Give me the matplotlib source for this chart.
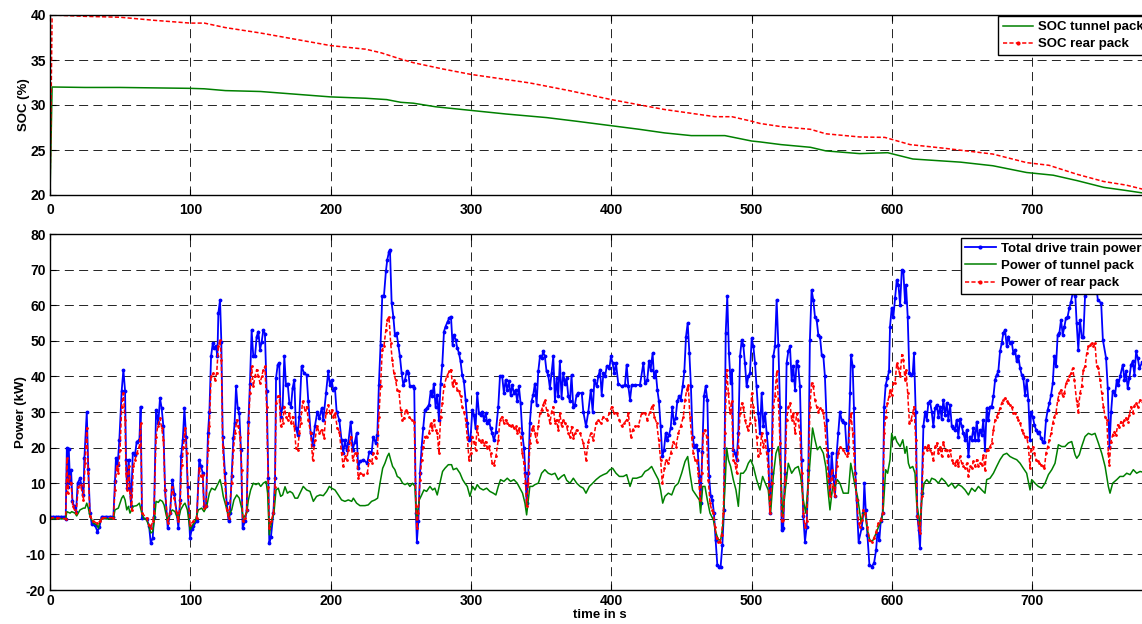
import matplotlib
matplotlib.use("Agg")
import matplotlib.pyplot as plt
import numpy as np
from matplotlib.lines import Line2D

# ---------------- data ----------------
time_ticks = [0, 100, 200, 300, 400, 500, 600, 700]
soc_ticks = [20, 25, 30, 35, 40]
power_ticks = [-20, -10, 0, 10, 20, 30, 40, 50, 60, 70, 80]

soc_tunnel = [(0, 20), (1.5, 32.0), (25, 31.95), (50, 31.95), (75, 31.9), (100, 31.85),
              (110, 31.8), (125, 31.6), (150, 31.5), (175, 31.2), (200, 30.9), (225, 30.75),
              (240, 30.6), (250, 30.3), (259, 30.2), (275, 29.8), (300, 29.4), (325, 29.0),
              (354, 28.6), (375, 28.2), (400, 27.7), (420, 27.3), (438, 26.9), (457, 26.6),
              (481, 26.6), (500, 26.0), (506, 25.9), (521, 25.6), (542, 25.3), (553, 24.9),
              (577, 24.6), (597, 24.7), (615, 24.0), (649, 23.65), (672, 23.25), (696, 22.5),
              (715, 22.2), (732, 21.6), (751, 20.85), (767, 20.5), (780, 20.2)]

soc_rear = [(0, 20), (1.5, 40.0), (25, 39.85), (50, 39.75), (75, 39.4), (100, 39.1),
            (110, 39.1), (125, 38.6), (150, 38.0), (175, 37.3), (200, 36.6), (225, 36.2),
            (236, 35.8), (250, 35.1), (259, 34.7), (280, 34.0), (300, 33.4), (342, 32.45),
            (370, 31.6), (400, 30.6), (438, 29.5), (474, 28.7), (486, 28.7), (500, 28.2),
            (506, 27.95), (521, 27.6), (542, 27.3), (553, 26.8), (577, 26.45), (595, 26.4),
            (604, 26.0), (613, 25.6), (637, 25.2), (672, 24.55), (696, 23.6), (712, 23.3),
            (732, 22.3), (751, 21.5), (767, 21.1), (780, 20.6)]

power_total = [
    (0, 0.6), (2, 0.6), (4, 0.6), (6, 0.6), (8, 0.6), (10, 0.6), (11.2, 0), (12, 19.9),
    (12.7, 9), (13.4, 19.5), (14.3, 10), (15, 13.8), (16, 5), (17.1, 3.5), (18.6, 2),
    (19.7, 10), (21.4, 11.4), (22.6, 9), (23.8, 6.7), (24.5, 17), (26.2, 30), (27.3, 14),
    (28.5, 1.6), (29.7, -1.4), (32, -1.7), (33.8, -3.6), (35.2, -2.3), (36.8, 0.6),
    (40, 0.6), (43, 0.6), (45.2, 0.6), (46.3, 10.5), (47, 17), (48.2, 15), (49.4, 22),
    (51.1, 36), (52.3, 41.8), (53.5, 36), (54.2, 16.6), (54.9, 8.6), (56.1, 16.6),
    (57, 8.6), (57.8, 3.5), (59, 18.4), (60.6, 18), (61.8, 21.7), (63.7, 22), (64.6, 31.5),
    (65.6, 0.2), (68.9, 0), (70.6, -2), (71.8, -6.8), (73.2, -5.4), (74.1, 0.6),
    (75.6, 30.6), (76.5, 28.7), (77.2, 27), (78.4, 33.9), (79.6, 31), (80.8, 26), (82, 8),
    (83.9, -2.6), (85.5, 1.6), (87.2, 11), (88.6, 7), (90.3, 1.6), (91.5, -2.6),
    (92.7, 5.3), (93.4, 17.5), (94.6, 22), (95.8, 31), (97, 23), (98.1, 9), (99.8, -5.4),
    (101, -3), (102.2, -2), (104.5, -0.7), (106.4, 16.6), (107.6, 14.7), (108.8, 13),
    (109.8, 3.5), (111.2, 3.5), (112.6, 24), (113.6, 30), (114.8, 45.6), (116, 49.3),
    (117.1, 48), (118.3, 48.4), (119.3, 45.6), (120, 57.8), (121.2, 61.5), (122.1, 49.8),
    (123.1, 23), (124.7, 12.8), (125.9, 4.4), (127.3, -0.7), (128.3, 1.6), (129.5, 11.9),
    (130.7, 22.7), (131.6, 27), (132.6, 37.2), (133.8, 31), (134.9, 29.7), (136.1, 19.4),
    (137.3, -2.6), (139, -0.7), (140.2, 2.5), (141.4, 27.3), (142.5, 38), (143.7, 53),
    (144.9, 45.6), (146.1, 45.6), (147.3, 51.2), (148.5, 52.6), (149.7, 47.5),
    (150.9, 49.8), (152, 53), (153.2, 52), (154.4, 35.8), (155.6, 11.4), (156.3, -6.8),
    (157.5, -5), (159.2, 1.6), (160.4, 11.4), (161.1, 39.5), (162.3, 43.3), (163.4, 43.7),
    (164.4, 28.7), (165.8, 31.5), (167, 45.6), (168.2, 37.6), (169.4, 38), (170.6, 32.5),
    (171.8, 31.5), (172.9, 36.7), (174.1, 39), (175.3, 25.5), (176.5, 23.6),
    (177.7, 28.7), (179.3, 42.8), (181, 41), (182.9, 40.4), (184.1, 33), (185.8, 24),
    (187.2, 20.8), (188.8, 26), (190.5, 30), (191.9, 28.3), (193.6, 31), (194.8, 27.8),
    (196.7, 35.3), (198.3, 41.4), (199.5, 37.6), (200.7, 39), (201.9, 36.2),
    (203.1, 36.7), (204.3, 30), (206.2, 27.8), (207.8, 22), (209, 18.4), (210.2, 22),
    (211.4, 19.4), (212.6, 21.3), (214.3, 27.3), (215.7, 19.4), (217.3, 21.7),
    (218.5, 24), (219.7, 14.2), (220.9, 16.1), (223.3, 16.6), (226.1, 15.6),
    (227.6, 18.9), (229.2, 18.4), (230.4, 23), (232.1, 21.3), (233.3, 23.6),
    (234.4, 37.6), (235.6, 48.9), (236.8, 62.5), (238, 62.5), (239.4, 69.5),
    (240.4, 72.8), (241.6, 75), (242.3, 75.6), (243.5, 60.6), (244.7, 56.8),
    (245.8, 51.7), (247, 52.2), (248.2, 48.9), (249.4, 45.6), (250.6, 41), (251.8, 37.6),
    (253, 39), (254.2, 41.4), (255.4, 41), (256.5, 37.2), (258.4, 37.2), (259.6, 36.7),
    (260.8, 1.6), (261.5, -6.4), (262.5, -0.7), (263.7, 12.8), (264.9, 20.3),
    (266, 25.5), (267.2, 30.6), (268.4, 31), (270.1, 32), (271.3, 35.8), (272.5, 34.4),
    (273.6, 38), (274.8, 31.5), (276, 34.8), (277.2, 27.8), (278.4, 38), (279.6, 43.3),
    (280.8, 52.6), (281.9, 54), (283.4, 55.4), (284.6, 56.4), (285.8, 56.8),
    (286.9, 48.9), (287.9, 51.7), (289.1, 50.3), (290.3, 48), (291.5, 46.5),
    (292.6, 44.2), (293.8, 40.4), (295, 38.6), (296.2, 33.4), (297.4, 27), (298.6, 22.2),
    (299.8, 23), (301, 30.6), (302.1, 29.2), (303.3, 25.5), (304.5, 35.3), (305.7, 29.7),
    (306.9, 29.2), (308.1, 30.1), (309.3, 27.8), (310.5, 29.7), (311.6, 27),
    (312.8, 27.8), (314, 25.5), (315.2, 24), (316.4, 22), (317.8, 24.5), (319.5, 31.5),
    (320.7, 40), (322.3, 40), (323.5, 35.3), (324.7, 39), (325.9, 36.2), (327.1, 38.6),
    (328.3, 34.8), (329.5, 37.6), (330.6, 35.3), (331.8, 36.2), (333, 33), (334.2, 37.2),
    (335.4, 32.5), (336.6, 24), (337.8, 19.9), (338.9, 12.8), (339.7, 4.4),
    (340.9, 12.8), (342, 27), (343.2, 33), (344.4, 34.8), (345.6, 38), (346.8, 32),
    (348, 41.4), (349.2, 45.6), (350.4, 45.1), (351.5, 47), (352.7, 45.6), (353.9, 41.4),
    (355.1, 40.4), (356.3, 36.7), (357.5, 41), (358.7, 45.6), (359.9, 33), (361.1, 39.5),
    (362.2, 34.4), (363.4, 44.2), (364.6, 33.9), (365.8, 41), (367, 38), (368.2, 39.5),
    (369.4, 34.4), (370.6, 33), (371.7, 40.4), (372.9, 31.5), (374.1, 32), (375.3, 34.8),
    (376.5, 35.3), (379, 35.3), (380.1, 30.1), (382, 26), (383.7, 30.1), (385.4, 36.2),
    (386.8, 30.1), (388, 39), (389.6, 37.2), (390.8, 40), (392, 41.9), (393.2, 34.8),
    (394.4, 40.9), (395.6, 40), (396.8, 42.8), (398.7, 42.3), (399.8, 45.6), (401, 43.7),
    (402.2, 40.9), (403.4, 43.7), (405, 38), (407.4, 37.2), (409.8, 37.6), (411, 43.3),
    (412.2, 37.2), (413.4, 33.4), (414.6, 37.6), (417, 37.6), (420.5, 37.6),
    (422.9, 43.7), (424.1, 38.1), (425.7, 39), (426.9, 44.2), (428.1, 41.9),
    (429.5, 46.5), (430.5, 39.9), (431.7, 41.4), (432.9, 36.2), (434, 33), (435.2, 26),
    (436.4, 17.5), (437.6, 19.4), (438.8, 24), (440, 22.2), (441.2, 23.6), (442.4, 25.5),
    (443.5, 31.5), (444.7, 26.9), (445.9, 28.3), (447.1, 33), (448.3, 34.4),
    (449.5, 33.4), (450.9, 37.2), (452.1, 41.4), (453.3, 51.2), (454.5, 55),
    (455.7, 46.5), (456.8, 37.2), (458, 23.1), (459.2, 20.3), (460.4, 20.8),
    (461.6, 19.4), (462.8, 11.9), (463.7, 4.4), (464.9, 18.9), (466.1, 34.4),
    (467.3, 37.2), (468.5, 33.4), (469.7, 11.9), (470.9, 6.3), (472.1, 5.3), (473.2, 1.6),
    (474.4, -5.9), (475.6, -12.9), (476.8, -13.4), (478, -13.4), (479.2, -7.3),
    (480.4, 2.5), (481.6, 52.2), (482.7, 62.5), (483.9, 46.5), (485.1, 38.1),
    (486.1, 41.9), (487, 19.4), (488.2, 18.4), (489.4, 16.6), (490.6, 24), (491.8, 45.6),
    (493, 50.3), (494.1, 48.9), (495.3, 43.7), (496.5, 37.2), (497.7, 40), (498.9, 40.9),
    (500.1, 50.7), (501.3, 48.4), (502.5, 43.7), (503.6, 37.2), (504.8, 29.7), (506, 24),
    (507.2, 35.3), (508.4, 26), (509.6, 29.7), (510.8, 24), (511.9, 19.4), (513.1, 1.6),
    (514.3, 12.8), (515.5, 45.6), (516.7, 48.4), (517.9, 61.5), (519.1, 48.9),
    (520.3, 31.5), (521.5, -3.1), (522.6, -2.6), (523.8, 12.8), (525, 43.7), (526.2, 47),
    (527.4, 48.4), (528.6, 39), (529.8, 42.8), (531, 36.2), (532.1, 44.2), (533.3, 42.8),
    (534.5, 37.2), (535.7, 16.6), (536.9, 0.7), (538.1, -6.4), (539.3, -2.2),
    (540.5, 13.8), (541.6, 50.3), (542.8, 64.3), (544, 61.5), (545.2, 56.8),
    (546.4, 55.9), (547.6, 51.7), (548.8, 51.2), (550, 46.1), (551.2, 45.6), (552.3, 40),
    (553.5, 27.8), (554.7, 17.5), (555.9, 7.2), (557.1, 18.4), (558.3, 11.9),
    (559.5, 6.3), (560.7, 18.4), (561.8, 24), (563, 30.1), (564.2, 27.8), (565.4, 27.3),
    (566.6, 26.9), (567.8, 19.4), (569, 20.3), (570.2, 35.3), (570.9, 46.1),
    (572.1, 42.8), (573, 31), (574, 12.8), (574.9, 5.3), (576.3, -6.4), (578.5, -2.6),
    (579.7, 1.6), (580.4, 10), (581.4, 2.5), (582.6, -4.5), (584, -12.9), (585.7, -13.4),
    (587.3, -12.5), (588.8, -8.7), (589.7, -4), (591.1, -5.9), (592.1, -0.7),
    (593.5, 1.6), (594.5, 31.5), (595.6, 37.6), (596.8, 39.5), (598, 41.4), (598.7, 54),
    (599.9, 59.2), (601.1, 56.8), (602.3, 62), (603.5, 67.1), (604.7, 65.7),
    (605.9, 60.1), (607.1, 69.9), (608.2, 69.5), (609.4, 61), (610.1, 65.7),
    (611.3, 56.8), (612.5, 40.9), (613.7, 40.4), (614.9, 40.9), (615.8, 46.5),
    (617, 30.1), (618.2, 0.7), (619.2, -3.1), (620.1, -8.2), (621.3, 7.2), (622.5, 26),
    (623.7, 30.1), (624.9, 27.8), (626, 32.5), (627.2, 33), (628.4, 30.1), (629.6, 26),
    (630.8, 31), (632, 32), (633.2, 28.7), (634.4, 31.5), (635.5, 28.1), (636.7, 33.4),
    (637.9, 29.2), (639.1, 32.5), (640.3, 27.8), (641.5, 32), (642.7, 26), (643.9, 25.5),
    (645, 25), (646.2, 27.8), (647.4, 23.1), (648.6, 28.1), (649.8, 26), (651, 24),
    (652.2, 22.2), (653.4, 25), (654.6, 17.5), (655.7, 23.1), (656.9, 22.2),
    (658.1, 25.5), (659.3, 22.2), (660.5, 27.3), (661.7, 22.2), (662.9, 25),
    (664.1, 23.6), (665.2, 27.8), (666.4, 19.4), (667.6, 31), (668.8, 27.8), (670, 31.5),
    (671.2, 31.5), (672.4, 34.4), (673.6, 39), (674.7, 40.4), (675.9, 41.4), (677.1, 47),
    (678.3, 49.3), (679.5, 52.2), (680.7, 53.1), (681.9, 48.4), (683.1, 51.2),
    (684.2, 49.3), (685.4, 49.8), (686.6, 46.5), (687.8, 47.5), (689, 44.2),
    (690.2, 45.6), (691.4, 42.3), (692.6, 40.4), (693.7, 39.5), (694.9, 34.8), (696.1, 39),
    (697.3, 33.4), (698.5, 22.2), (699.2, 30.1), (700.4, 28.7), (701.6, 26.4),
    (702.8, 25), (704, 24), (705.1, 24.5), (706.3, 22.6), (707.5, 21.7), (708.7, 21.7),
    (709.9, 27.8), (711.1, 30.6), (712.3, 32.5), (713.5, 34.8), (714.7, 38.1),
    (715.8, 45.6), (717, 42.8), (718.2, 51.7), (719.4, 52.2), (720.6, 55.9),
    (721.8, 51.7), (723, 54), (724.1, 56.4), (725.3, 56.8), (726.5, 59.2), (727.7, 61),
    (728.9, 63.4), (730.1, 65), (730.8, 62.5), (731.7, 55), (732.9, 47.5), (734.1, 55.9),
    (735.3, 51.2), (736.5, 51.2), (737.7, 62.5), (738.9, 66), (740.9, 68), (743, 67),
    (745.6, 66), (746.8, 61.5), (749.2, 60.6), (750.4, 50.3), (752.7, 45.1),
    (753.9, 36.7), (755.1, 20.3), (756.3, 30.1), (757.4, 35.8), (759.1, 34.8),
    (760.3, 39), (761.5, 37.6), (762.7, 40), (764.6, 43.3), (765.8, 39), (766.9, 41.4),
    (768.1, 36.7), (769.3, 39.5), (770.5, 43.3), (771.7, 44.2), (772.9, 40.4),
    (774.1, 47), (775.3, 45.1), (776.5, 42.3), (778.4, 44), (780, 42)]

power_tunnel = [
    (0, 0), (11.2, 0), (12, 2), (14.3, 1.6), (15.5, 2), (17.8, 1.6), (19, 0.8),
    (21.4, 2.5), (23.8, 3), (25, 3), (26.2, 4.4), (27.3, 3), (28.5, 0.7), (30.9, -1.2),
    (33.3, -1.7), (34.5, -2.6), (35.7, -0.7), (36.8, 0), (45.2, 0), (46.3, 2.5),
    (48.7, 3), (49.9, 4.4), (51.1, 5.8), (52.3, 6.5), (53.5, 5.3), (54.7, 2.5),
    (55.9, 3.5), (57, 1.6), (58.2, 2.5), (59.4, 3.5), (61.8, 3.7), (63.7, 4.4),
    (65.4, 1.6), (67, 0), (68.9, -0.3), (70.6, -2.2), (71.8, -4), (73.2, -3.6),
    (74.4, -0.3), (75.6, 4.9), (77.2, 4.6), (78.4, 5.3), (80.1, 4.9), (81.3, 3.9),
    (82.5, 1.6), (83.9, -0.7), (85.5, 1.6), (87.2, 2.5), (89.1, 2), (90.3, 0.7),
    (91.5, -0.3), (93.1, 2.5), (95.1, 3.9), (96.2, 4.4), (97.9, 2.5), (99.8, -3.1),
    (101.7, -1.7), (103.4, -0.7), (105.7, 2.5), (108.1, 3), (109.8, 2), (111.7, 3.5),
    (113.6, 7.2), (115.2, 8.6), (117.6, 8.1), (120, 10), (121.2, 11), (122.4, 9),
    (123.5, 6.3), (125.4, 3.5), (127.3, 0.8), (129.5, 2.5), (131.1, 5.3), (133.1, 6.7),
    (134.9, 5.8), (136.6, 3), (137.8, 0.2), (140.2, 1.6), (141.4, 5.3), (143, 8.1),
    (144.9, 10), (146.8, 9.6), (148.5, 10), (150.2, 9.1), (152, 10), (154, 10.5),
    (155.1, 7.2), (156.3, -4.5), (158, -0.7), (159.6, 1.6), (161.1, 8.1), (162.7, 8.6),
    (164.4, 6.3), (165.8, 6.7), (167.5, 9), (169.2, 7.2), (171, 7.7), (172.9, 7.2),
    (174.6, 5.8), (176.5, 5.8), (178.2, 7.2), (180.5, 9.1), (182.9, 8.1), (185.3, 7.7),
    (187.7, 4.9), (190, 6.3), (192.4, 6.7), (194.8, 6.5), (197.2, 7.7), (199.1, 9.1),
    (200.7, 8.6), (203.1, 8.1), (205.5, 6.7), (207.8, 5.3), (210.2, 4.9), (212.6, 5.3),
    (215, 4.9), (216.2, 5.8), (218.5, 4.4), (220.9, 3.7), (224.5, 3.7), (226.8, 3.9),
    (229.2, 4.9), (231.6, 5.3), (233.5, 5.8), (235.2, 10), (237.1, 14.2), (238.7, 15.6),
    (240.4, 17.5), (241.6, 18.4), (242.8, 16.6), (244.2, 14.7), (245.8, 13.8),
    (247.5, 11.9), (249.4, 11.4), (251.3, 10), (253, 9.6), (254.9, 10), (256.5, 9.1),
    (258.4, 10), (260.1, 9.1), (261.3, -0.3), (262, 2), (263.2, 5.3), (264.9, 6.7),
    (266.5, 8.1), (268.4, 7.7), (270.8, 9.1), (272.7, 8.1), (274.3, 8.6), (276, 6.7),
    (277.9, 10), (279.8, 13.3), (281.5, 14.2), (283.9, 15.2), (286.2, 15.2),
    (287.4, 13.8), (289.8, 14.2), (292.2, 12.8), (294.1, 11), (295.7, 10), (297.4, 9.1),
    (299.3, 6.3), (301.2, 9.1), (302.9, 8.1), (304.5, 9.6), (306.4, 8.6), (308.8, 8.1),
    (311.2, 8.6), (313.5, 7.7), (315.9, 7.2), (317.8, 6.7), (319.5, 9.1), (321.1, 11),
    (323.5, 10.5), (325.9, 11.4), (328.3, 10.5), (330.6, 11), (333, 10), (334.9, 8.6),
    (336.8, 7.2), (338.5, 4.4), (339.7, 1.1), (340.9, 5.3), (342, 9.1), (343.9, 9.1),
    (345.6, 9.6), (348, 10), (350.4, 12.8), (352.7, 13.8), (355.1, 12.8), (357.5, 12.4),
    (359.9, 12.8), (362.2, 11), (364.6, 11.9), (366.5, 12.4), (368.3, 10.8), (370.6, 10),
    (373, 11.4), (375.4, 10), (377.8, 9.1), (380.1, 8.6), (382, 7.2), (384.4, 9.1),
    (386.8, 10), (389.2, 11), (392, 11.9), (394.4, 12.4), (396.8, 12.8), (399.1, 13.8),
    (401, 14.2), (403.4, 12.8), (405.8, 11.9), (408.6, 11.9), (411, 12.4), (413.4, 9.1),
    (415.3, 11.4), (418.1, 11.4), (421.7, 11.9), (424.1, 13.3), (426.4, 13.8),
    (428.8, 14.7), (431.2, 12.8), (433.6, 11), (435.2, 8.1), (436.7, 4.4), (438.3, 6.3),
    (440.7, 7.2), (443.1, 6.7), (445.4, 9.1), (447.8, 10), (450.2, 12.8), (452.6, 16.1),
    (454.5, 17.5), (456.1, 12.8), (458, 8.1), (460.4, 6.7), (462.8, 5.3), (463.7, 1.6),
    (465.2, 9.1), (466.8, 9.1), (468.5, 5.3), (470.4, 1.6), (472.8, -0.3), (474.4, -3.6),
    (476.3, -5.9), (478, -5.9), (479.4, -2.6), (481.1, 9.1), (482.3, 19.9),
    (483.5, 16.6), (485.1, 14.7), (487, 11), (488.9, 8.1), (490.6, 3.5), (492.2, 12.8),
    (494.1, 12.8), (496, 13.8), (497.7, 15.6), (499.4, 16.6), (501.3, 14.7),
    (503.6, 11), (506, 8.1), (507.9, 11.9), (509.8, 10), (511.9, 8.1), (513.6, 1.6),
    (515.5, 11.9), (517.4, 18.4), (519.1, 20.3), (520.7, 14.7), (522.2, 0.7),
    (523.8, 7.2), (526.2, 15.6), (528.6, 12.8), (531, 14.2), (533.3, 14.7), (535, 11.9),
    (536.9, 5.3), (538.6, 1.6), (540.5, 10), (542.1, 18.4), (543.5, 25.5), (545.2, 22.2),
    (546.9, 19.4), (548.8, 20.3), (551.2, 18.4), (553, 14.5), (554.7, 7.2), (555.9, 2.5),
    (557.8, 9.1), (559.5, 9.1), (561.1, 11), (563, 10), (565.4, 7.2), (567.8, 7.2),
    (569, 7.2), (570.7, 15.6), (572.1, 12.8), (573.8, 9.1), (575.5, 6.3), (576.9, 2.5),
    (578.1, -1.2), (579.7, 1.6), (580.9, 1.6), (582.6, -3.1), (584.5, -6.4),
    (586.9, -5.9), (588.8, -4), (591.1, -1.7), (592.8, -0.3), (594, 3.5), (595.6, 13.8),
    (597, 12.8), (598.7, 16.6), (599.9, 24), (601.1, 22.2), (602.3, 23.1), (603.5, 21.7),
    (605.9, 20.3), (607.8, 22.2), (609.4, 18.4), (610.6, 20.3), (611.8, 15.6),
    (613, 14.2), (614.9, 14.7), (616.5, 12.8), (617.7, 4.4), (619.2, 0.7), (620.1, -2.2),
    (621.3, 5.3), (623, 10), (624.9, 11), (626.8, 10), (628.4, 11.4), (630.8, 11),
    (633.2, 10), (635.5, 11.4), (637.9, 10.5), (640.3, 9.1), (642.7, 10), (645, 8.6),
    (647.4, 9.6), (649.8, 9.1), (652.2, 8.1), (654.6, 6.7), (656.9, 8.6), (659.3, 7.7),
    (661.7, 9.1), (664.1, 8.1), (666.4, 7.2), (667.6, 11), (670, 11.4), (672.4, 12.8),
    (674.7, 14.7), (677.1, 16.6), (679.5, 18), (681.9, 18.4), (684.2, 17.5), (686.6, 17),
    (689, 16.6), (691.4, 15.6), (693.7, 14.2), (696.1, 12.8), (698.5, 8.1), (699.7, 11),
    (702, 10), (704.4, 9.1), (706.8, 8.6), (709.2, 10), (711.6, 12.4), (714, 13.8),
    (716.3, 15.6), (718.7, 20.8), (721.1, 20.3), (723.4, 20.3), (725.8, 21.3),
    (728.2, 21.7), (730.6, 18), (731.8, 17), (733.6, 18), (735.3, 20.3), (737.7, 23.1),
    (740.1, 24), (742.5, 23.6), (744.8, 24), (747.2, 21.3), (749.6, 18.4), (752, 14.7),
    (754.3, 9.1), (755.5, 7.2), (757.4, 10), (760.3, 11), (762.6, 11.9), (765, 11.9),
    (767.4, 12.8), (769.8, 12.4), (772.1, 13.8), (774.5, 12.8), (776.9, 13.3), (780, 13)]

power_rear = [
    (0, 0.3), (5, 0.3), (11.2, 0), (12, 17), (12.6, 7.2), (13.8, 12), (15, 10),
    (16.2, 3.5), (18.6, 1.6), (20.2, 9), (21.9, 9.5), (23.8, 5.3), (25, 15.6),
    (26.2, 25.5), (27.3, 12.8), (28.5, 0.7), (30.9, -0.7), (33.3, -1.2), (35.7, -0.7),
    (36.8, 0.3), (45.2, 0.3), (46.3, 8), (47.5, 14.7), (48.7, 12.8), (49.9, 19.4),
    (51.1, 31.5), (52.3, 35.3), (53.5, 27.8), (54.2, 12.8), (55.1, 8), (56.1, 14.7),
    (57, 7.2), (58.2, 2.5), (59.4, 14.7), (60.6, 16.6), (61.8, 18.4), (63.7, 20.3),
    (64.6, 26.9), (65.6, 1.6), (68.9, 0.2), (70.6, -1.7), (71.8, -2.6), (73.2, -0.7),
    (74.1, 1.6), (75.6, 23.1), (76.8, 26), (78.4, 28.3), (79.6, 25.5), (80.8, 22.2),
    (82, 8), (83.9, -1.2), (85.5, 1.6), (87.2, 9), (88.6, 5.8), (90.3, 1.6),
    (91.5, -0.7), (92.7, 4.4), (93.9, 15.2), (95.1, 20.3), (96.2, 25.5), (97.4, 18.4),
    (98.6, 6.3), (99.8, -1.7), (102.2, -0.7), (104.5, 0.2), (106.4, 14.2), (107.6, 11.9),
    (108.8, 12.4), (109.8, 3), (111.2, 3.5), (112.6, 19.4), (113.6, 26), (114.8, 40),
    (116.4, 40.9), (117.6, 39), (118.8, 40.9), (120, 48.4), (121.2, 50.3),
    (122.1, 44.7), (123.1, 20.3), (124.7, 10), (125.9, 2.5), (127.3, 0.2), (129.5, 10),
    (130.7, 19.4), (131.9, 24), (133.1, 27.8), (134.2, 26), (135.4, 23.1),
    (136.6, 13.8), (137.3, -0.7), (139, 0.2), (140.2, 2.5), (141.4, 24), (142.5, 35.3),
    (143.7, 42.8), (144.9, 37.2), (146.1, 40), (147.3, 41.9), (148.5, 40),
    (149.7, 38.1), (150.9, 40), (152, 41.9), (153.2, 42.8), (154.4, 31.5), (155.6, 9),
    (156.3, -2.6), (157.5, -0.7), (159.2, 1.6), (160.4, 9), (161.1, 32.5),
    (162.3, 34.4), (163.4, 34.4), (164.4, 26), (165.8, 26.9), (167, 31.5),
    (168.2, 28.7), (169.4, 27.8), (170.6, 29.7), (171.8, 26.9), (172.9, 28.7),
    (174.1, 26), (175.3, 19.9), (176.5, 19.4), (177.7, 24), (178.6, 26.9), (180, 33),
    (181.7, 30.6), (182.9, 31.5), (184.1, 27.8), (185.8, 24), (187.2, 16.6),
    (188.8, 22.2), (190.5, 26), (191.9, 24), (193.6, 25), (195.3, 22.7), (196.7, 29.7),
    (198.3, 32), (199.5, 29.7), (200.7, 30.6), (201.9, 28.7), (203.1, 29.7),
    (204.8, 25.5), (206.2, 24.5), (207.8, 18.4), (209, 14.7), (210.2, 17.5),
    (211.4, 16.6), (212.6, 19.4), (214.3, 23.1), (215.7, 16.6), (217.3, 18.4),
    (218.5, 18.4), (219.7, 11.4), (220.9, 12.8), (223.3, 12.4), (226.1, 12.8),
    (227.6, 16.6), (229.2, 15.6), (230.4, 18.4), (232.1, 17), (233.3, 18.4),
    (234.4, 28.7), (235.6, 37.2), (236.8, 47.5), (238, 48.4), (239.4, 53.1),
    (240.4, 55.9), (241.6, 56.8), (242.8, 49.3), (243.9, 44.7), (245.1, 40.9),
    (246.3, 39), (247.5, 36.2), (248.7, 35.8), (249.9, 30.6), (251.1, 27.8),
    (252.3, 28.3), (253.4, 30.6), (254.6, 30.1), (255.8, 28.7), (257.7, 27.8),
    (259.6, 27.3), (260.8, 3.5), (261.5, -2.6), (262.5, 1.6), (263.7, 11), (264.9, 16.6),
    (266, 20.3), (267.2, 23.1), (268.4, 23.1), (270.1, 24), (271.3, 26.9), (272.5, 25),
    (273.6, 27.8), (274.8, 25), (276, 24), (277.2, 18.4), (278.4, 28.7), (279.6, 32.5),
    (280.8, 37.2), (282.7, 40), (284.6, 41.4), (285.8, 41.9), (286.9, 37.2),
    (287.9, 39), (289.1, 38.1), (290.3, 36.2), (291.5, 35.8), (292.6, 34.4),
    (293.8, 31.5), (295, 30.1), (296.2, 27.8), (297.4, 23.1), (298.6, 16.6),
    (299.8, 18.4), (301, 23.1), (302.1, 21.7), (303.3, 19.4), (304.5, 26), (305.7, 22.2),
    (306.9, 21.7), (308.1, 22.2), (309.3, 20.8), (310.5, 21.7), (311.6, 19.9),
    (312.8, 20.4), (314, 18.4), (315.2, 15.6), (316.4, 15.2), (317.8, 17.5),
    (319.5, 22.2), (320.7, 27.8), (322.3, 28.7), (323.5, 26.9), (324.7, 27.8),
    (325.9, 26.9), (327.1, 26.4), (328.3, 26), (329.5, 26.4), (330.6, 25.5), (331.8, 26),
    (333, 24), (334.2, 25.5), (335.4, 23.1), (336.6, 18.4), (337.8, 15.6), (338.9, 10),
    (339.7, 3.5), (340.9, 10), (342, 21.3), (343.2, 25), (344.4, 26), (345.6, 24),
    (346.8, 21.7), (348, 26), (349.2, 29.7), (350.4, 30.6), (351.5, 32), (352.7, 33.4),
    (353.9, 30.6), (355.1, 29.2), (356.3, 26.9), (357.5, 30.1), (358.7, 31.5),
    (359.9, 26.9), (361.1, 27.8), (362.2, 25), (363.4, 29.7), (364.6, 26), (365.8, 27.8),
    (367, 26.9), (368.2, 26), (369.4, 24), (370.6, 23.1), (371.7, 25.9), (372.9, 22.7),
    (374.1, 24), (375.4, 25), (377.8, 24), (380.1, 21.3), (382, 16.6), (383.7, 21.7),
    (385.4, 24), (387.3, 22.2), (389.2, 26.9), (390.8, 27.8), (392.5, 26.9),
    (394.4, 28.7), (396.8, 27.8), (398.7, 29.7), (400.3, 31.5), (402, 29.7),
    (403.9, 29.7), (405.8, 27.8), (407.4, 26), (409.3, 26.9), (411, 27.8), (412.2, 29.7),
    (413.9, 23.1), (415.3, 25), (417, 26), (419.3, 26), (421.7, 29.7), (424.1, 29.7),
    (425.7, 27.8), (427.6, 30.1), (429.5, 32), (430.7, 28.7), (432.4, 26.9),
    (433.8, 22.2), (435.2, 16.6), (436.4, 10), (437.9, 14.2), (439, 16.6), (440.7, 15.6),
    (442.4, 18.4), (444.3, 21.7), (446.2, 20.3), (447.8, 24), (449.5, 26), (451.4, 28.7),
    (452.6, 33.4), (453.8, 36.2), (454.9, 37.6), (456.1, 28.7), (457.3, 23.1),
    (458.5, 18.4), (459.7, 16.6), (460.9, 16.6), (462.1, 12.8), (463.3, 5.3),
    (464.5, 12.8), (465.6, 24), (466.8, 25), (468, 23.1), (469.2, 11), (470.4, 4.4),
    (471.6, 2.5), (472.8, 1.6), (473.9, -2.2), (475.1, -5.4), (476.3, -6.4),
    (477.5, -6.4), (478.7, -4.5), (479.9, 1.6), (481.1, 24), (482.3, 41.9),
    (483.5, 35.3), (484.6, 29.7), (485.8, 33), (487, 16.6), (488.2, 15.6),
    (489.4, 12.8), (490.6, 20.3), (491.8, 29.7), (493, 32.5), (494.1, 31.5),
    (495.3, 27.8), (496.5, 26), (497.7, 25), (498.9, 26.9), (500.1, 35.3),
    (501.3, 31.5), (502.5, 27.8), (503.6, 23.1), (504.8, 17.5), (506, 18.4),
    (507.2, 24), (508.4, 20.3), (509.6, 22.2), (510.8, 18.4), (511.9, 14.7),
    (513.1, 1.6), (514.3, 10), (515.5, 31.5), (516.7, 34.4), (517.9, 41.4),
    (519.1, 33.4), (520.3, 21.3), (521.5, -0.7), (522.6, -0.3), (523.8, 11),
    (525, 27.8), (526.2, 31.5), (527.4, 32.5), (528.6, 27.8), (529.8, 29.7), (531, 24),
    (532.1, 29.7), (533.3, 27.8), (534.5, 24), (535.7, 12.8), (536.9, 1.6),
    (538.1, -2.2), (539.3, -0.7), (540.5, 11), (541.6, 31.5), (542.8, 38.1),
    (544, 37.2), (545.2, 33.4), (546.4, 31.5), (547.6, 30.1), (548.8, 31), (550, 30.6),
    (551.2, 29.7), (552.3, 26), (553.5, 19.4), (554.7, 11.9), (555.9, 6.3),
    (557.1, 13.8), (558.3, 9), (559.5, 6.3), (560.7, 14.7), (561.8, 18.4), (563, 20.3),
    (565.4, 19.4), (567.8, 17.5), (569, 18.4), (570.2, 27.8), (570.9, 29.7),
    (572.1, 24), (573, 18.4), (574, 11), (574.9, 5.3), (576.3, -1.2), (577.4, -2.2),
    (578.5, -0.3), (579.7, 2.5), (580.9, 1.6), (582.6, -2.2), (584, -5.9),
    (585.7, -6.4), (587.3, -5.4), (588.8, -3.6), (590.4, -1.2), (592.1, -0.3),
    (593.5, 1.6), (594.5, 24), (595.6, 28.7), (596.8, 32.5), (598, 34.4), (598.7, 36.2),
    (599.9, 34.8), (601.1, 38.1), (602.3, 38.1), (603.5, 43.7), (604.7, 42.3),
    (605.9, 40), (607.1, 46.1), (608.2, 44.7), (609.4, 39), (610.1, 41.9),
    (611.3, 35.3), (612.5, 26.9), (613.7, 27.8), (614.9, 29.7), (615.8, 31.5),
    (617, 22.2), (618.2, 0.7), (619.2, -2.2), (620.1, -4), (621.3, 6.3), (622.5, 18.4),
    (623.7, 20.3), (624.9, 19.4), (626, 20.8), (627.2, 19.4), (628.4, 18.4),
    (629.6, 16.6), (630.8, 20.3), (632, 21.3), (633.2, 18.4), (634.4, 20.3),
    (635.5, 17.5), (636.7, 21.7), (637.9, 19.4), (639.1, 19.4), (640.3, 17.5),
    (641.5, 19.4), (642.7, 16.6), (643.9, 15.6), (645, 15.2), (646.2, 16.6),
    (647.4, 14.7), (648.6, 17.5), (649.8, 15.6), (651, 14.7), (652.2, 14.2),
    (653.4, 15.6), (654.6, 11.9), (655.7, 14.7), (656.9, 14.2), (658.1, 16.1),
    (659.3, 14.7), (660.5, 16.6), (661.7, 14.7), (662.9, 15.6), (664.1, 15.2),
    (665.2, 18), (666.4, 13.8), (667.6, 19.4), (668.8, 19.4), (670, 20.3),
    (671.2, 21.3), (672.4, 25), (673.6, 27.8), (674.7, 28.7), (675.9, 29.7), (677.1, 31),
    (678.3, 32.5), (679.5, 33.4), (680.7, 33.9), (681.9, 33), (683.1, 32.5), (684.2, 32),
    (685.4, 31.5), (686.6, 29.7), (687.8, 29.7), (689, 28.7), (690.2, 27.8),
    (691.4, 26.9), (692.6, 25), (693.7, 24), (694.9, 23.1), (696.1, 23.1),
    (697.3, 20.3), (698.5, 14.2), (699.2, 19.4), (700.4, 20.3), (701.6, 18.4),
    (702.8, 16.6), (704, 16.1), (705.1, 15.6), (706.3, 15.2), (707.5, 14.7),
    (708.7, 14.2), (709.9, 18.4), (711.1, 20.3), (712.3, 22.2), (713.5, 24),
    (714.7, 26.9), (715.8, 28.7), (717, 29.7), (718.2, 33.4), (719.4, 35.3),
    (720.6, 36.2), (721.8, 34.4), (723, 35.3), (724.1, 38.1), (725.3, 39), (726.5, 40),
    (727.7, 40.9), (728.9, 42.3), (730.1, 39), (731.7, 33), (732.9, 30.1),
    (734.1, 35.3), (735.3, 37.2), (736.5, 41.9), (737.7, 42.8), (738.9, 46.5),
    (740.1, 48.4), (741.3, 48.9), (742.5, 49.3), (743.6, 48.4), (744.8, 49.3),
    (746, 42.8), (747.2, 42.3), (748.4, 39), (749.6, 35.3), (750.8, 31.5), (752, 28.7),
    (753.2, 27.8), (754.3, 18.4), (755, 15.2), (756.2, 21.7), (757.4, 23.6),
    (758.6, 24.5), (759.8, 23.6), (761, 26.4), (762.1, 25.9), (763.3, 27.3),
    (764.5, 26.4), (765.7, 27.8), (766.9, 28.3), (768.1, 27.3), (769.3, 29.2),
    (770.5, 31.5), (771.7, 29.7), (772.9, 31.8), (774.1, 32.5), (775.3, 31.5),
    (776.9, 33.4), (780, 32)]

# ---------------- style ----------------
plt.rcParams['font.family'] = ['Liberation Sans', 'DejaVu Sans']
plt.rcParams['font.weight'] = 'bold'
plt.rcParams['lines.scale_dashes'] = False
plt.rcParams['axes.unicode_minus'] = False

GREEN = '#008000'
RED = '#FF0000'
BLUE = '#0000FF'
FS = 9.5
RED_DASH = (0, (3.0, 1.6))

fig = plt.figure(figsize=(11.42, 6.24), dpi=100)
W, H = 1142.0, 624.0
x0, x1 = 50, 1150
ax1 = fig.add_axes([x0 / W, 1 - 195 / H, (x1 - x0) / W, 180 / H])
ax2 = fig.add_axes([x0 / W, 1 - 590 / H, (x1 - x0) / W, 356 / H])


def arr(pairs):
    a = np.array(pairs, dtype=float)
    return a[:, 0], a[:, 1]


def style(ax, yticks, ylim, xpad):
    ax.set_xlim(0, 784)
    ax.set_ylim(*ylim)
    ax.set_xticks(time_ticks)
    ax.set_yticks(yticks)
    ax.grid(True, color='black', linestyle=(0, (6.5, 3.8)), linewidth=0.6)
    ax.tick_params(direction='in', length=4, width=0.8, top=True, right=True,
                   labelsize=10)
    ax.tick_params(axis='x', pad=xpad)
    ax.tick_params(axis='y', pad=3)
    for lab in ax.get_xticklabels() + ax.get_yticklabels():
        lab.set_fontweight('bold')
    for s in ax.spines.values():
        s.set_linewidth(1.0)
        s.set_color('black')


# ---- top: SOC ----
t, v = arr(soc_tunnel)
ax1.plot(t, v, color=GREEN, lw=1.1)
t, v = arr(soc_rear)
ax1.plot(t, v, color=RED, lw=1.1, linestyle=RED_DASH)
style(ax1, soc_ticks, (20, 40), 5.5)
ax1.set_ylabel('SOC (%)', fontsize=FS, fontweight='bold', labelpad=0)

legkw = dict(loc='upper right', prop={'size': FS, 'weight': 'bold'}, fancybox=False,
             edgecolor='black', framealpha=1, handlelength=2.3, labelspacing=0.38,
             borderpad=0.35, handletextpad=0.4)

h1 = [Line2D([], [], color=GREEN, lw=1.1),
      Line2D([], [], color=RED, lw=1.1, linestyle=RED_DASH, marker='.', markersize=4)]
leg1 = ax1.legend(h1, ['SOC tunnel pack', 'SOC rear pack'], borderaxespad=0.1, **legkw)
leg1.get_frame().set_linewidth(1.0)

# ---- bottom: power ----
t, v = arr(power_total)
ax2.plot(t, v, color=BLUE, lw=1.3, marker='.', markersize=3.5)
t, v = arr(power_tunnel)
ax2.plot(t, v, color=GREEN, lw=1.1)
t, v = arr(power_rear)
ax2.plot(t, v, color=RED, lw=1.1, linestyle=RED_DASH, marker='.', markersize=2)
style(ax2, power_ticks, (-20, 80), 3.0)
ax2.set_ylabel('Power (kW)', fontsize=FS, fontweight='bold', labelpad=-1)
ax2.set_xlabel('time in s', fontsize=FS, fontweight='bold')
ax2.xaxis.set_label_coords(0.5, -(609.5 - 590) / 356.0)

h2 = [Line2D([], [], color=BLUE, lw=1.3, marker='.', markersize=4),
      Line2D([], [], color=GREEN, lw=1.1),
      Line2D([], [], color=RED, lw=1.1, linestyle=RED_DASH, marker='.', markersize=4)]
leg2 = ax2.legend(h2, ['Total drive train power', 'Power of tunnel pack',
                       'Power of rear pack'], borderaxespad=0.3, **legkw)
leg2.get_frame().set_linewidth(1.0)

fig.savefig('out.png', dpi=100)
